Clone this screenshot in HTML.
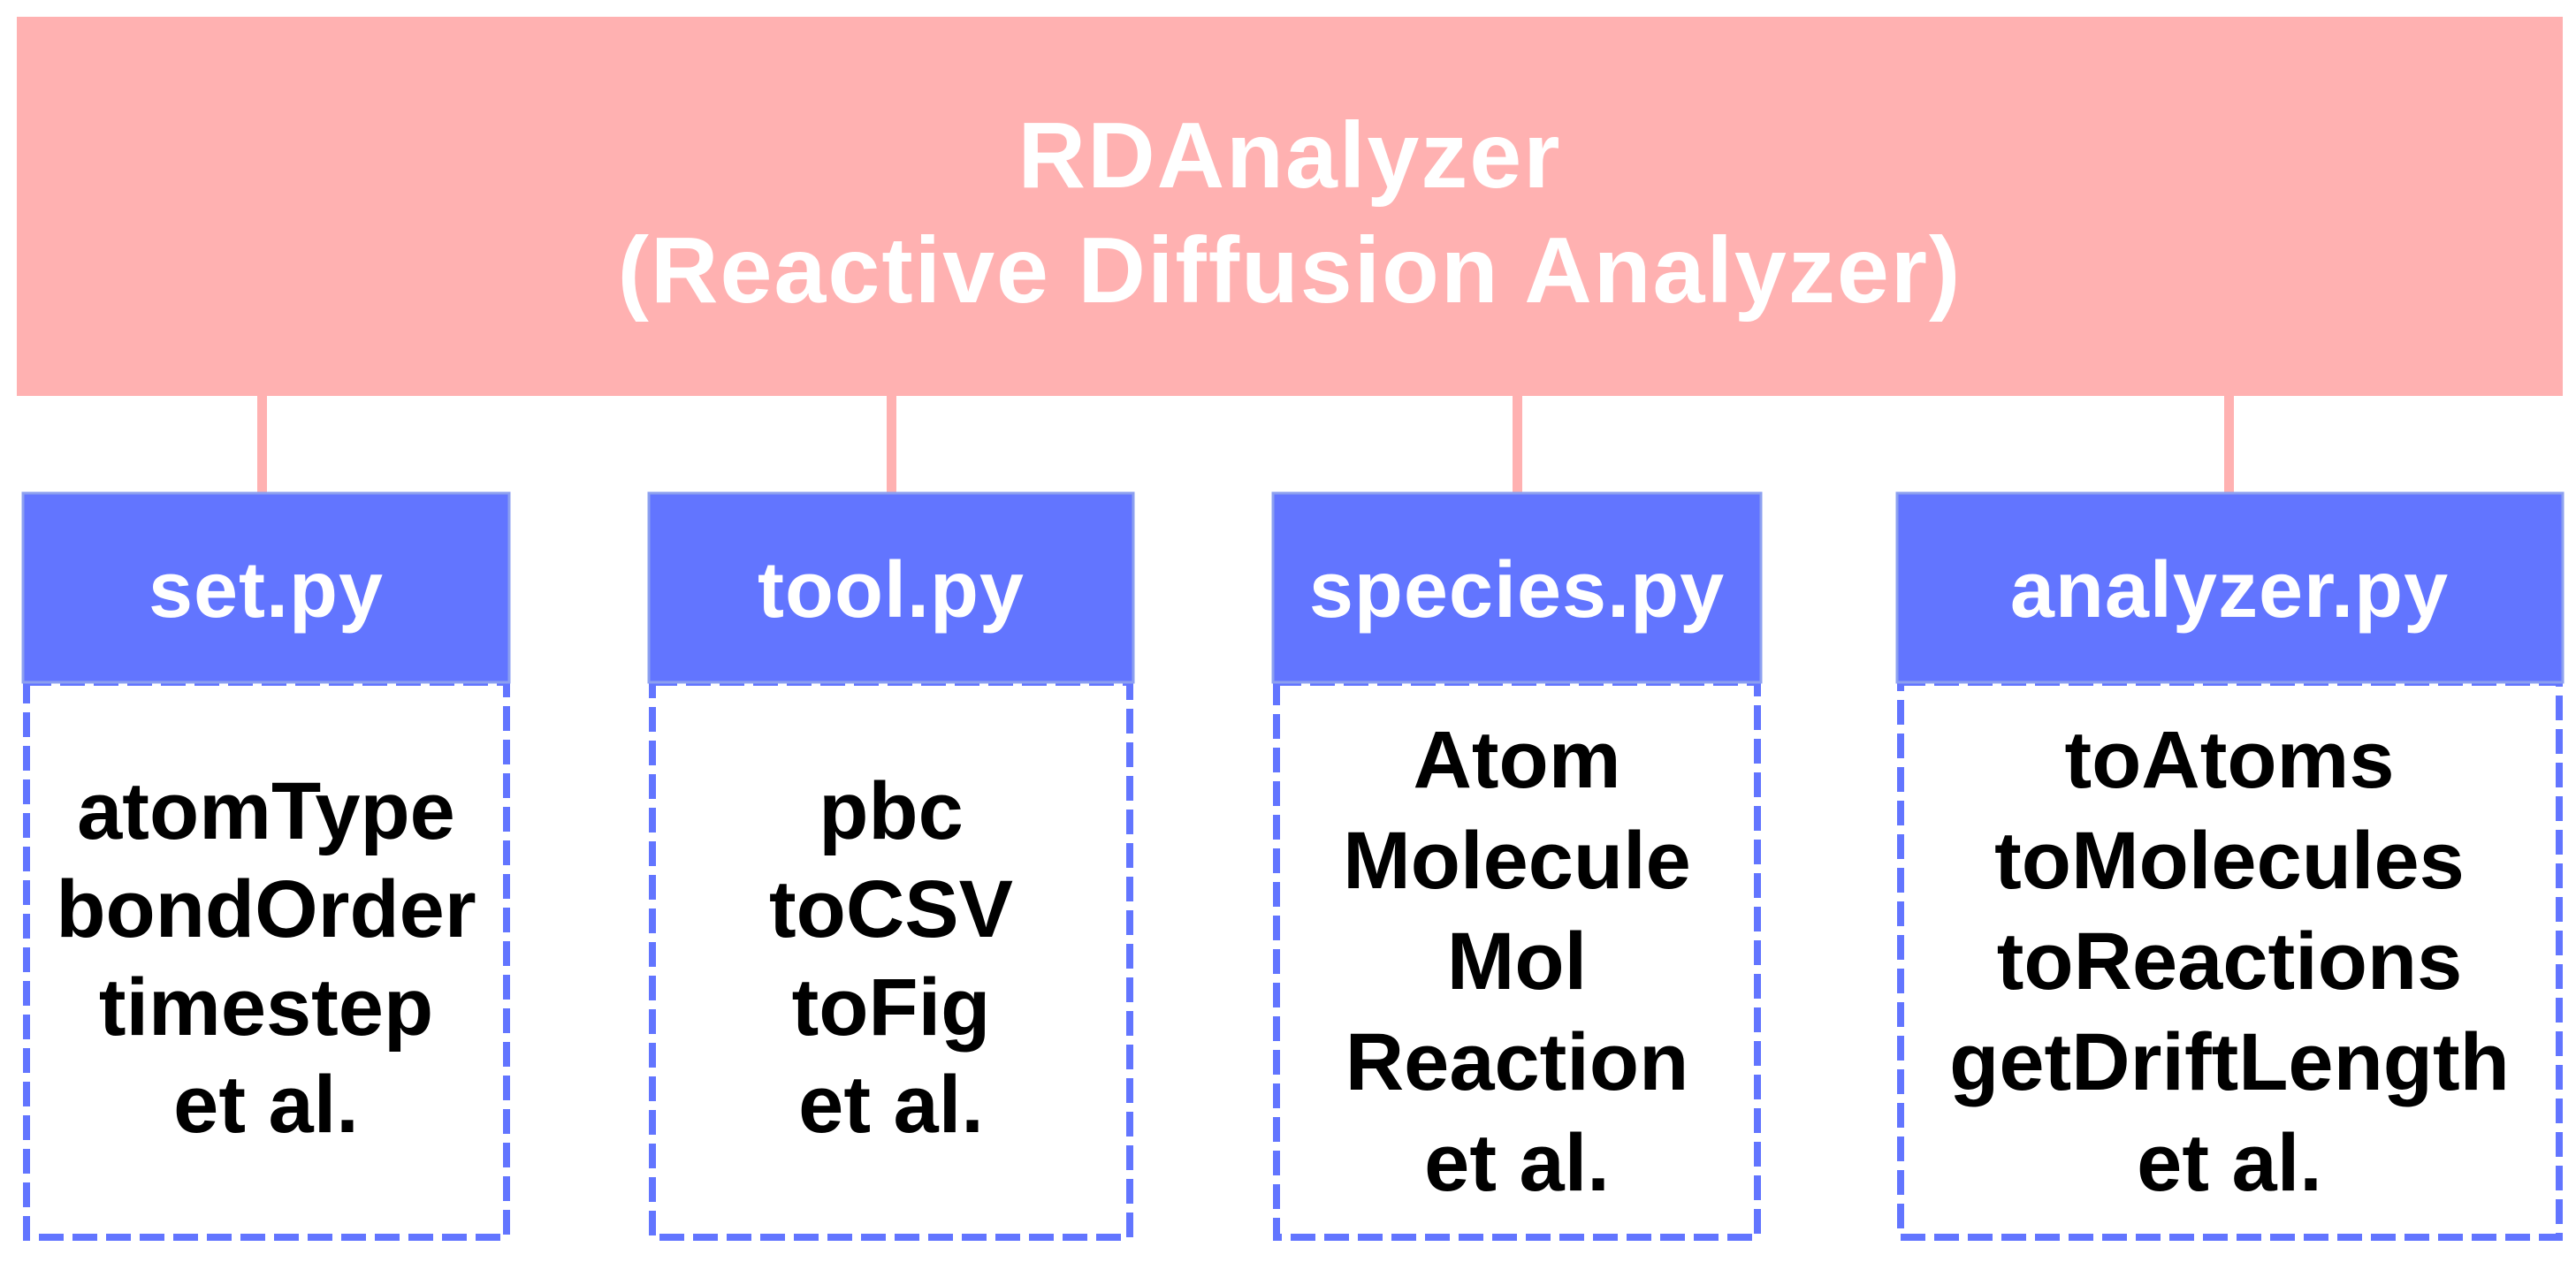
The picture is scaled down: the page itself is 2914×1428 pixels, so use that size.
<!DOCTYPE html>
<html><head><meta charset="utf-8"><style>
html,body{margin:0;padding:0;background:#fff;width:2914px;height:1428px;overflow:hidden}
svg text{font-family:"Liberation Sans",Arial,sans-serif;font-weight:bold;text-anchor:middle}
</style></head><body>
<svg width="2914" height="1428" viewBox="0 0 2914 1428" xmlns="http://www.w3.org/2000/svg">
<rect x="19" y="19" width="2880" height="429" fill="#FFB1B1"/>
<text x="1459" y="212" font-size="106" letter-spacing="2" fill="#fff">RDAnalyzer</text>
<text x="1459" y="342" font-size="106" letter-spacing="2" fill="#fff">(Reactive Diffusion Analyzer)</text>
<g fill="#FFB1B1">
<rect x="291" y="448" width="11" height="112"/>
<rect x="1003" y="448" width="11" height="112"/>
<rect x="1711" y="448" width="11" height="112"/>
<rect x="2516" y="448" width="11" height="112"/>
</g>
<g stroke="#6275FF" stroke-width="8" fill="none" stroke-dasharray="28 10">
<rect x="30" y="772" width="543" height="628"/>
<rect x="738" y="772" width="540" height="628"/>
<rect x="1444" y="772" width="544" height="628"/>
<rect x="2150" y="772" width="745" height="628"/>
</g>
<g fill="#6275FF" stroke="#8CA0F0" stroke-width="3">
<rect x="26" y="558" width="550" height="214"/>
<rect x="734" y="558" width="548" height="214"/>
<rect x="1440" y="558" width="552" height="214"/>
<rect x="2146" y="558" width="753" height="214"/>
</g>
<g font-size="90" fill="#fff" letter-spacing="1">
<text x="301" y="698">set.py</text>
<text x="1008" y="698">tool.py</text>
<text x="1716" y="698">species.py</text>
<text x="2522" y="698">analyzer.py</text>
</g>
<g font-size="92" fill="#000">
<text x="301" y="949">atomType</text>
<text x="301" y="1060">bondOrder</text>
<text x="301" y="1171">timestep</text>
<text x="301" y="1281">et al.</text>
<text x="1008" y="949">pbc</text>
<text x="1008" y="1060">toCSV</text>
<text x="1008" y="1171">toFig</text>
<text x="1008" y="1281">et al.</text>
<text x="1716" y="891">Atom</text>
<text x="1716" y="1005">Molecule</text>
<text x="1716" y="1119">Mol</text>
<text x="1716" y="1233">Reaction</text>
<text x="1716" y="1347">et al.</text>
<text x="2522" y="891">toAtoms</text>
<text x="2522" y="1005">toMolecules</text>
<text x="2522" y="1119">toReactions</text>
<text x="2522" y="1233">getDriftLength</text>
<text x="2522" y="1347">et al.</text>
</g>
</svg>
</body></html>
